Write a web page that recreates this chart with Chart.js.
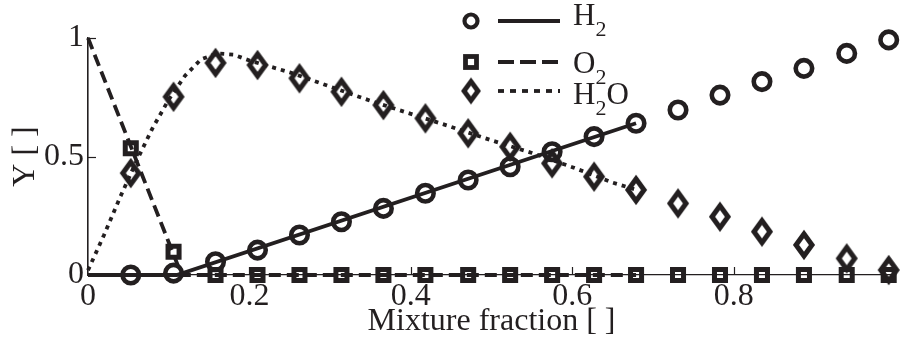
<!DOCTYPE html>
<html><head><meta charset="utf-8">
<script src="https://cdn.jsdelivr.net/npm/chart.js@4.4.1/dist/chart.umd.min.js"></script>
<style>html,body{margin:0;padding:0;background:#fff;}#wrap{width:908px;height:340px;position:relative;}</style>
</head><body><div id="wrap"><canvas id="c" width="908" height="340"></canvas></div>
<script>
// ---- data ----
const mixtureFraction = [0.053,0.106,0.158,0.210,0.262,0.314,0.366,0.418,0.471,0.523,0.575,0.627,0.679,0.731,0.783,0.835,0.887,0.940,0.992];
const markersH2  = [0.000,0.008,0.056,0.105,0.169,0.225,0.281,0.345,0.401,0.457,0.520,0.584,0.640,0.696,0.759,0.816,0.872,0.935,0.992];
const markersO2  = [0.535,0.098,0,0,0,0,0,0,0,0,0,0,0,0,0,0,0,0,0];
const markersH2O = [0.430,0.752,0.895,0.886,0.830,0.773,0.717,0.661,0.598,0.541,0.471,0.415,0.359,0.302,0.246,0.183,0.127,0.070,0.021];

const modelZH2  = [0, 0.110, 0.679];
const modelH2   = [0, 0, 0.640];
const modelZO2  = [0, 0.116, 0.679];
const modelO2   = [1, 0, 0];
const modelZH2O = [0,0.02,0.04,0.06,0.08,0.10,0.12,0.14,0.16,0.18,0.20,0.25,0.30,0.35,0.40,0.45,0.50,0.55,0.60,0.65,0.679];
const modelH2O  = [0.02,0.17,0.33,0.48,0.62,0.74,0.84,0.91,0.935,0.93,0.905,0.855,0.795,0.735,0.68,0.625,0.568,0.515,0.455,0.39,0.36];

const xTickValues = [0, 0.2, 0.4, 0.6, 0.8];
const yTickValues = [0, 0.5, 1];
const speciesNames = ['H₂', 'O₂', 'H₂O'];
const xTitle = 'Mixture fraction [ ]';
const yTitle = 'Y [ ]';

// ---- styling ----
const INK = '#231f20';
const FONT = 'Liberation Serif';

function pts(xs, ys){ return xs.map((x,i)=>({x:x, y:ys[i]})); }

function makeDiamond(w, h, lw){
  const c = document.createElement('canvas');
  c.width = w + 14; c.height = h + 18;
  const g = c.getContext('2d');
  g.strokeStyle = INK; g.lineWidth = lw; g.lineJoin = 'miter';
  const cx = c.width/2, cy = c.height/2;
  g.beginPath();
  g.moveTo(cx, cy - h/2); g.lineTo(cx + w/2, cy); g.lineTo(cx, cy + h/2); g.lineTo(cx - w/2, cy);
  g.closePath(); g.stroke();
  return c;
}
const diamond = makeDiamond(16, 22, 5);
const legendDiamond = makeDiamond(14, 19, 4.8);

const lineStyles = [
  {dash: [], legendDash: []},
  {dash: [12, 6], legendDash: [16, 6]},
  {dash: [4, 5], legendDash: [6, 6]}
];

const datasets = [
  {label: speciesNames[0], data: pts(mixtureFraction, markersH2), showLine:false, pointStyle:'circle', pointRadius:8.25, pointBorderWidth:4.6, borderColor:INK, backgroundColor:'transparent', pointBackgroundColor:'transparent', clip:false},
  {label: speciesNames[1], data: pts(mixtureFraction, markersO2), showLine:false, pointStyle:'rect', pointRadius:7.8, pointBorderWidth:5, borderColor:INK, backgroundColor:'transparent', pointBackgroundColor:'transparent', clip:false},
  {label: speciesNames[2], data: pts(mixtureFraction, markersH2O), showLine:false, pointStyle:diamond, pointRadius:10, borderColor:INK, backgroundColor:'transparent', clip:false},
  {label: speciesNames[0]+' model', data: pts(modelZH2, modelH2), showLine:true, pointRadius:0, borderColor:INK, borderWidth:3.8, borderDash:lineStyles[0].dash, clip:false},
  {label: speciesNames[1]+' model', data: pts(modelZO2, modelO2), showLine:true, pointRadius:0, borderColor:INK, borderWidth:3.8, borderDash:lineStyles[1].dash, clip:false},
  {label: speciesNames[2]+' model', data: pts(modelZH2O, modelH2O), showLine:true, pointRadius:0, borderColor:INK, borderWidth:3.8, borderDash:lineStyles[2].dash, borderCapStyle:'butt', clip:false}
];

// inward tick marks
const tickPlugin = {
  id: 'inTicks',
  afterDatasetsDraw(chart){
    const ctx = chart.ctx, xs = chart.scales.x, ys = chart.scales.y;
    ctx.save(); ctx.strokeStyle = INK; ctx.lineWidth = 1.2;
    xTickValues.forEach(v=>{ if (v===0) return; const px = Math.round(xs.getPixelForValue(v))+0.5; ctx.beginPath(); ctx.moveTo(px, ys.bottom); ctx.lineTo(px, ys.bottom-8); ctx.stroke(); });
    yTickValues.forEach(v=>{ if (v===0) return; const py = Math.round(ys.getPixelForValue(v))+0.5; ctx.beginPath(); ctx.moveTo(xs.left, py); ctx.lineTo(xs.left+8, py); ctx.stroke(); });
    ctx.restore();
  }
};

// legend: marker, line sample, label with subscripts
const SUB = {'₀':'0','₁':'1','₂':'2','₃':'3'};
function drawRich(ctx, text, x, baseline){
  for (const ch of text){
    if (SUB[ch]){
      ctx.font = '22px "'+FONT+'"';
      ctx.fillText(SUB[ch], x, baseline + 11);
      x += ctx.measureText(SUB[ch]).width;
    } else {
      ctx.font = '31px "'+FONT+'"';
      ctx.fillText(ch, x, baseline);
      x += ctx.measureText(ch).width;
    }
  }
}
const legendPlugin = {
  id: 'customLegend',
  afterDraw(chart){
    const ctx = chart.ctx;
    const rows = [21, 62, 91];
    const baselines = [25, 73, 104];
    ctx.save();
    ctx.strokeStyle = INK; ctx.fillStyle = INK; ctx.textBaseline = 'alphabetic'; ctx.textAlign = 'left';
    speciesNames.forEach((name, i)=>{
      const y = rows[i], mx = 471;
      ctx.setLineDash([]);
      if (i===0){ ctx.lineWidth = 4.2; ctx.beginPath(); ctx.arc(mx, y, 6.5, 0, Math.PI*2); ctx.stroke(); }
      else if (i===1){ ctx.lineWidth = 4.8; ctx.strokeRect(mx-5.5, y-5.5, 11, 11); }
      else { ctx.drawImage(legendDiamond, mx - legendDiamond.width/2, y - legendDiamond.height/2); }
      ctx.lineWidth = 3.8; ctx.lineCap = 'butt';
      ctx.setLineDash(lineStyles[i].legendDash);
      ctx.beginPath(); ctx.moveTo(498, y); ctx.lineTo(560, y); ctx.stroke();
      ctx.setLineDash([]);
      drawRich(ctx, name, 573, baselines[i]);
    });
    ctx.restore();
  }
};

new Chart(document.getElementById('c'), {
  type: 'scatter',
  data: {datasets},
  options: {
    responsive:false, animation:false, devicePixelRatio:1,
    layout:{padding:{top:38,left:0,right:0,bottom:0}},
    plugins:{legend:{display:false}, tooltip:{enabled:false}},
    scales:{
      x:{type:'linear', min:0, max:1,
        afterBuildTicks(s){ s.ticks = xTickValues.map(v=>({value:v})); },
        afterFit(s){ s.height = 65; s.paddingLeft = 0; s.paddingRight = 0; },
        ticks:{color:INK, font:{family:FONT,size:32}, padding:2, maxRotation:0, autoSkip:false, callback:v=>String(v)},
        grid:{display:true, drawOnChartArea:false, drawTicks:false, color:'transparent'},
        border:{display:true, color:INK, width:1.3},
        title:{display:true, text:xTitle, color:INK, font:{family:FONT,size:32}, padding:{top:0,bottom:-1}}
      },
      y:{type:'linear', min:0, max:1,
        afterBuildTicks(s){ s.ticks = yTickValues.map(v=>({value:v})); },
        afterFit(s){ s.width = 88; s.paddingTop = 0; s.paddingBottom = 0; },
        ticks:{color:INK, font:{family:FONT,size:32}, padding:4, autoSkip:false, callback:v=>String(v)},
        grid:{display:true, drawOnChartArea:false, drawTicks:false, color:'transparent'},
        border:{display:true, color:INK, width:1.6},
        title:{display:true, text:yTitle, color:INK, font:{family:FONT,size:32}, padding:{top:6,bottom:0}}
      }
    }
  },
  plugins:[tickPlugin, legendPlugin]
});
</script></body></html>
